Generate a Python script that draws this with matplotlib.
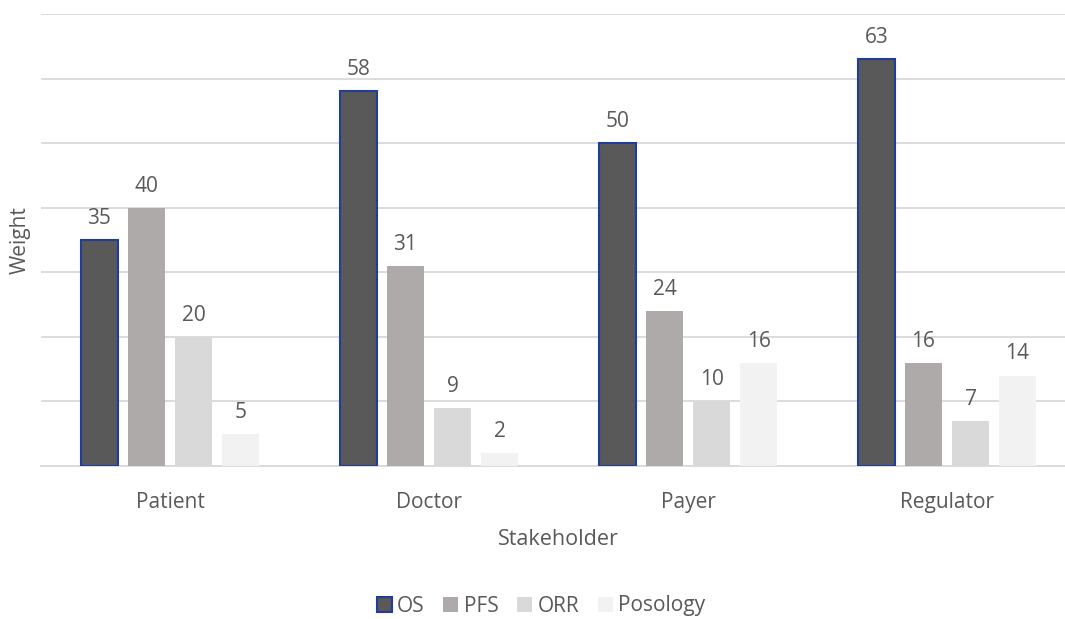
import matplotlib
matplotlib.use("Agg")
import matplotlib.pyplot as plt
import numpy as np

stakeholders = ["Patient", "Doctor", "Payer", "Regulator"]
series_names = ["OS", "PFS", "ORR", "Posology"]
os_vals = [35, 58, 50, 63]
pfs_vals = [40, 31, 24, 16]
orr_vals = [20, 9, 10, 7]
posology_vals = [5, 2, 16, 14]

values = [os_vals, pfs_vals, orr_vals, posology_vals]
fills = ["#595959", "#AEAAAA", "#D9D9D9", "#F2F2F2"]
edges = ["#1F3D99", "none", "none", "none"]

plt.rcParams["font.family"] = ["Open Sans", "DejaVu Sans"]
text_color = "#595959"
fs = 15

fig = plt.figure(figsize=(10.65, 6.19), dpi=100)
W, H = 1065, 619
left_px, right_px, top_px, bottom_px = 40.5, 1076.5, 14, 466
ax = fig.add_axes([left_px / W, 1 - bottom_px / H,
                   (right_px - left_px) / W, (bottom_px - top_px) / H])

x = np.arange(len(stakeholders))
step = 0.1815
width = 0.143
for i, (name, vals) in enumerate(zip(series_names, values)):
    pos = x + (i - 1.5) * step
    lw = 1.5 if edges[i] != "none" else 0
    ax.bar(pos, vals, width, color=fills[i], edgecolor=edges[i],
           linewidth=lw, label=name, zorder=3)
    for xi, v in zip(pos, vals):
        ax.annotate(f"{v}", (xi, v), xytext=(0, 8), textcoords="offset points",
                    ha="center", va="bottom", fontsize=fs, color=text_color)

ax.set_xlim(-0.5, len(stakeholders) - 0.5)
ax.set_ylim(0, 70)
ax.set_yticks(np.arange(0, 71, 10))
ax.set_yticklabels([])
ax.tick_params(axis="y", length=0)
ax.grid(axis="y", color="#D9D9D9", linewidth=1.3, zorder=0)
ax.set_xticks(x)
ax.set_xticklabels(stakeholders, fontsize=fs, color=text_color)
ax.tick_params(axis="x", length=0, pad=18.5)
for s in ["top", "right", "left"]:
    ax.spines[s].set_visible(False)
ax.spines["bottom"].set_color("#D9D9D9")
ax.spines["bottom"].set_linewidth(1.3)
ax.set_xlabel("Stakeholder", fontsize=fs + 0.5, color=text_color, labelpad=12)

fig.text(20 / W, 1 - 240 / H, "Weight", rotation=90, ha="center", va="center",
         fontsize=fs, color=text_color)

handles, labels = ax.get_legend_handles_labels()
fig.legend(handles, labels, loc="center", bbox_to_anchor=(541 / W, 1 - 606 / H),
           ncol=4, frameon=False, fontsize=fs, handlelength=0.72,
           handleheight=0.72, handletextpad=0.25, columnspacing=0.9,
           labelcolor=text_color)

fig.savefig("out.png", dpi=100)
